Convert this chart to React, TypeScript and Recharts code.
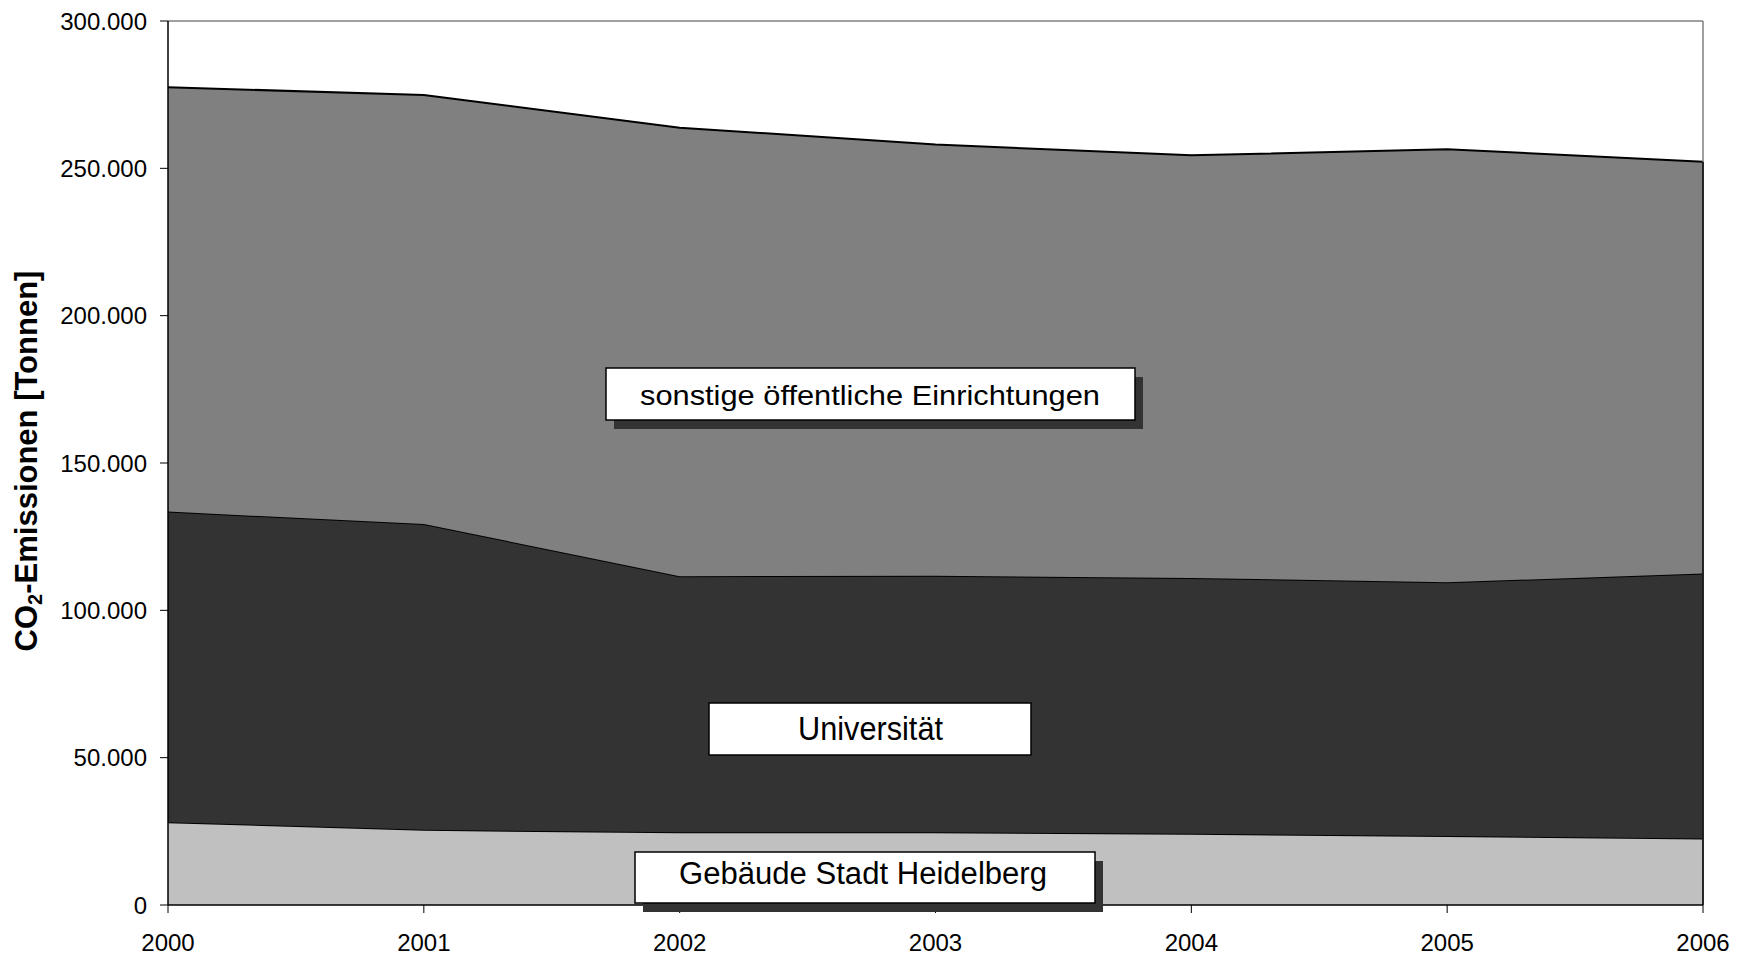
import React from "react";
import {
  AreaChart, Area, XAxis, YAxis, ReferenceLine,
} from "recharts";

// Werte (Tonnen CO2)
const years = ["2000", "2001", "2002", "2003", "2004", "2005", "2006"];
const gebaeudeStadt = [28100, 25500, 24700, 24700, 24200, 23400, 22600];
const universitaet = [105400, 103800, 86900, 87000, 86800, 86100, 89900];
const sonstige = [144000, 145600, 152200, 146400, 143400, 147000, 139700];
const yTicks = [0, 50000, 100000, 150000, 200000, 250000, 300000];

const data = years.map((year, i) => ({
  year,
  gebaeude: gebaeudeStadt[i],
  uni: universitaet[i],
  sonstige: sonstige[i],
}));

const lastTotal =
  gebaeudeStadt[gebaeudeStadt.length - 1] +
  universitaet[universitaet.length - 1] +
  sonstige[sonstige.length - 1];

const FONT = '"Liberation Sans", Arial, sans-serif';

const fmt = (v: number) => String(v).replace(/\B(?=(\d{3})+(?!\d))/g, ".");

const tickStyle = { fill: "#000", fontSize: 24, fontFamily: FONT };

// beschriftete Kästchen mit Schatten wie im Original
function LabelBox({ x, y, w, h, text, tx, ty, size, len }: any) {
  return (
    <g>
      <rect x={x + 8} y={y + 9} width={w} height={h} fill="#333333" />
      <rect x={x} y={y} width={w} height={h} fill="#fff" stroke="#000" strokeWidth={1.5} />
      <text
        x={tx}
        y={ty}
        fontSize={size}
        fontFamily={FONT}
        fill="#000"
        textLength={len}
        lengthAdjust="spacingAndGlyphs"
      >
        {text}
      </text>
    </g>
  );
}

export default function App() {
  return (
    <div style={{ position: "absolute", left: 0, top: 0, width: 1743, height: 957, background: "#fff" }}>
      <AreaChart
        width={1743}
        height={957}
        data={data}
        margin={{ top: 21, right: 40, bottom: 12, left: 48 }}
      >
        <XAxis
          dataKey="year"
          height={40}
          tick={tickStyle}
          tickSize={8}
          tickMargin={21}
          axisLine={{ stroke: "#000", strokeWidth: 1.5 }}
          tickLine={{ stroke: "#000" }}
        />
        <YAxis
          width={120}
          domain={[0, 300000]}
          ticks={yTicks}
          tickFormatter={fmt}
          tick={tickStyle}
          tickSize={8}
          tickMargin={13}
          axisLine={{ stroke: "#000", strokeWidth: 1.5 }}
          tickLine={{ stroke: "#000" }}
        />
        <ReferenceLine y={300000} stroke="#808080" strokeWidth={1.5} />
        <ReferenceLine x="2006" stroke="#808080" strokeWidth={1.5} />
        <Area
          type="linear"
          dataKey="gebaeude"
          stackId="a"
          fill="#C0C0C0"
          fillOpacity={1}
          stroke="#000"
          strokeWidth={2}
          isAnimationActive={false}
        />
        <Area
          type="linear"
          dataKey="uni"
          stackId="a"
          fill="#333333"
          fillOpacity={1}
          stroke="#000"
          strokeWidth={2}
          isAnimationActive={false}
        />
        <Area
          type="linear"
          dataKey="sonstige"
          stackId="a"
          fill="#808080"
          fillOpacity={1}
          stroke="#000"
          strokeWidth={2}
          isAnimationActive={false}
        />
        <ReferenceLine
          segment={[{ x: "2006", y: 0 }, { x: "2006", y: lastTotal }]}
          stroke="#000"
          strokeWidth={1.5}
        />
      </AreaChart>
      <svg
        width={1743}
        height={957}
        style={{ position: "absolute", left: 0, top: 0, pointerEvents: "none" }}
      >
        <text
          x={37}
          y={461}
          transform="rotate(-90, 37, 461)"
          textAnchor="middle"
          fontSize={31}
          fontWeight="bold"
          fontFamily={FONT}
          fill="#000"
        >
          CO<tspan fontSize={20} dy={5}>2</tspan>
          <tspan dy={-5}>-Emissionen [Tonnen]</tspan>
        </text>
        <LabelBox x={606} y={368} w={529} h={52} text="sonstige öffentliche Einrichtungen" tx={640} ty={405} size={28} len={460} />
        <LabelBox x={709} y={703} w={322} h={52} text="Universität" tx={798} ty={740} size={33} len={145} />
        <LabelBox x={635} y={852} w={460} h={51} text="Gebäude Stadt Heidelberg" tx={679} ty={884} size={31} len={368} />
      </svg>
    </div>
  );
}
